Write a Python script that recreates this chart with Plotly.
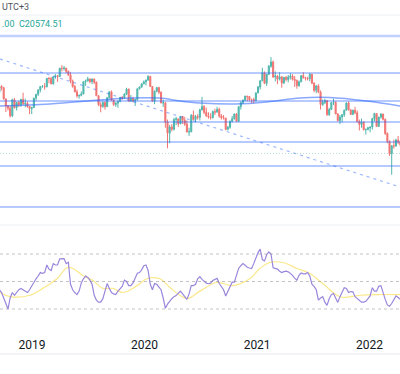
import pandas as pd
import plotly.graph_objects as go

# ---------------- data ----------------
week_start = "2018-09-17"
n_weeks = 187
dates = pd.date_range(week_start, periods=n_weeks, freq="7D")

opens = [
    27300, 27954, 27789, 26573, 25801, 25561, 24718, 26486, 25602, 26184,
    25928, 26507, 26064, 26095, 25753, 25504, 25626, 26667, 27091, 27569,
    27931, 27946, 27901, 28816, 28812, 28228, 29012, 29113, 29051, 29936,
    29910, 29963, 29605, 29210, 28550, 27946, 27354, 26901, 26965, 27118,
    28474, 28543, 28775, 28472, 28765, 28398, 26919, 25939, 25734, 26179,
    25725, 26691, 27353, 26436, 25955, 26110, 26308, 26720, 26667, 27101,
    27651, 26327, 26595, 26346, 26498, 27688, 27871, 28225, 28452, 28638,
    29056, 27950, 26313, 27404, 27816, 27309, 26130, 26147, 24033, 22805,
    23484, 23236, 24300, 24380, 23831, 24644, 24230, 23797, 22930, 22961,
    24770, 24301, 24644, 24550, 25373, 25727, 25089, 24705, 24595, 24532,
    25183, 25114, 25422, 24695, 24503, 24455, 23235, 23459, 24119, 24387,
    24919, 24107, 25713, 26157, 26452, 26895, 26836, 26506, 26499, 26387,
    27231, 27878, 28574, 29448, 28284, 29289, 30174, 30645, 28980, 29098,
    28740, 28991, 28336, 28939, 28699, 28970, 29079, 28725, 28611, 28028,
    28458, 29124, 28918, 28842, 28801, 29288, 28310, 27515, 28004, 27322,
    25961, 26179, 26392, 24850, 25408, 26164, 26206, 24921, 24192, 24576,
    24838, 25331, 26127, 25377, 24871, 25328, 25050, 24081, 23767, 23996,
    23193, 23224, 23398, 23493, 24383, 24966, 23550, 24573, 24907, 24328,
    22767, 21905, 20554, 21412, 21405, 22040, 21872,
]
highs = [
    28050, 28080, 27900, 26600, 25900, 25790, 26600, 26680, 26250, 26350,
    26600, 27260, 26600, 26300, 25800, 25700, 26700, 27100, 27600, 28000,
    28100, 28300, 28900, 29000, 29000, 29050, 29300, 29200, 30000, 30280,
    30200, 30000, 29700, 29500, 28700, 28100, 27600, 27050, 27400, 28500,
    28700, 29000, 28800, 28800, 28800, 28500, 26950, 26200, 26300, 26300,
    26800, 27400, 27500, 26500, 26200, 26400, 26800, 26900, 27200, 27800,
    27700, 27000, 26800, 26600, 27700, 27950, 28300, 28600, 28700, 29174,
    29100, 27950, 27500, 27900, 27900, 27400, 26500, 26200, 24300, 23700,
    23800, 24500, 24600, 24400, 24700, 24700, 24600, 24200, 23400, 24900,
    25300, 24800, 24900, 25500, 26800, 25900, 25600, 25100, 25000, 25300,
    25500, 25700, 25600, 24900, 24800, 24500, 23600, 24200, 24700, 24950,
    25000, 25800, 26300, 26500, 26900, 26900, 26900, 26600, 26700, 27300,
    28000, 28600, 30000, 29600, 29300, 30300, 31183, 30800, 29600, 29200,
    29500, 29100, 29000, 29100, 29200, 29400, 29300, 29100, 28700, 28600,
    29200, 29500, 29000, 29000, 29400, 29300, 28400, 28100, 28200, 27500,
    26500, 26600, 26400, 25600, 26200, 26600, 26300, 25000, 24800, 24900,
    25400, 26200, 26300, 25400, 25400, 25700, 25300, 24300, 24400, 24100,
    23300, 23500, 23500, 24500, 25050, 25000, 24600, 25000, 24950, 24400,
    22900, 22000, 21500, 22100, 22200, 22500, 22000,
]
lows = [
    27100, 27500, 26500, 25130, 25300, 24540, 24600, 25520, 25300, 25700,
    25700, 25900, 25650, 25600, 24900, 24900, 25600, 26400, 26900, 27300,
    27800, 27600, 27850, 28300, 28200, 28150, 28800, 28450, 29000, 29600,
    29700, 29400, 29100, 28300, 27800, 27300, 26700, 26600, 26850, 27100,
    28000, 28500, 28300, 28200, 28200, 26900, 25800, 25100, 25600, 25400,
    25700, 26600, 26400, 25800, 25700, 25600, 26200, 26500, 26600, 27000,
    26300, 26300, 26200, 25800, 26400, 27600, 27800, 28200, 28050, 28600,
    27900, 26300, 26000, 27300, 27100, 26100, 25700, 23400, 21139, 21700,
    23000, 23100, 23700, 23500, 23800, 23800, 23600, 22900, 22500, 22900,
    24200, 24000, 24300, 24200, 25300, 24900, 24600, 24400, 24300, 24400,
    24800, 25100, 24500, 24300, 24300, 23124, 23100, 23300, 24000, 24300,
    24100, 24100, 25400, 26000, 26300, 26300, 26300, 26100, 26100, 26300,
    27200, 27600, 28500, 28200, 28000, 29200, 30000, 28900, 28500, 28200,
    28600, 27800, 28200, 28500, 28400, 28700, 28600, 27900, 27700, 27900,
    28400, 28800, 28600, 28600, 28500, 28200, 27300, 27200, 27200, 25400,
    25800, 26000, 24700, 24700, 25400, 25900, 24900, 24100, 23800, 24000,
    24600, 25300, 25300, 24800, 24800, 24900, 24000, 23100, 23400, 23100,
    22665, 23100, 22900, 23200, 24100, 23500, 23500, 24400, 24200, 22600,
    21700, 20300, 18235, 21100, 21300, 21600, 21300,
]
closes = [
    27954, 27789, 26573, 25801, 25561, 24718, 26486, 25602, 26184, 25928,
    26507, 26064, 26095, 25753, 25504, 25626, 26667, 27091, 27569, 27931,
    27946, 27901, 28816, 28812, 28228, 29012, 29113, 29051, 29936, 29910,
    29963, 29605, 29210, 28550, 27946, 27354, 26901, 26965, 27118, 28474,
    28543, 28775, 28472, 28765, 28398, 26919, 25939, 25734, 26179, 25725,
    26691, 27353, 26436, 25955, 26110, 26308, 26720, 26667, 27101, 27651,
    26327, 26595, 26346, 26498, 27688, 27871, 28225, 28452, 28638, 29056,
    27950, 26313, 27404, 27816, 27309, 26130, 26147, 24033, 22805, 23484,
    23236, 24300, 24380, 23831, 24644, 24230, 23797, 22930, 22961, 24770,
    24301, 24644, 24550, 25373, 25727, 25089, 24705, 24595, 24532, 25183,
    25114, 25422, 24695, 24503, 24455, 23235, 23459, 24119, 24387, 24919,
    24107, 25713, 26157, 26452, 26895, 26836, 26506, 26499, 26387, 27231,
    27878, 28574, 29448, 28284, 29289, 30174, 30645, 28980, 29098, 28740,
    28991, 28336, 28939, 28699, 28970, 29079, 28725, 28611, 28028, 28458,
    29124, 28918, 28842, 28801, 29288, 28310, 27515, 28004, 27322, 25961,
    26179, 26392, 24850, 25408, 26164, 26206, 24921, 24192, 24576, 24838,
    25331, 26127, 25377, 24871, 25328, 25050, 24081, 23767, 23996, 23193,
    23224, 23398, 23493, 24383, 24966, 23550, 24573, 24907, 24328, 22767,
    21905, 20554, 21412, 21405, 22040, 21872, 21518,
]
rsi = [
    44, 42, 38, 34, 30, 38, 42, 40, 42, 44,
    45, 44, 43, 42, 44, 47, 49, 52, 54, 56.5,
    56, 56.5, 62, 59, 58, 63, 62, 62, 66.5, 66.7,
    66.7, 63, 64, 48, 44, 42, 40.5, 43, 49, 52,
    54, 53, 51, 48, 40, 36.5, 35, 35, 37.5, 43,
    48.5, 45, 42, 41, 40.5, 43, 45, 46.5, 51, 50,
    47, 47, 49, 53, 56, 56.5, 58.5, 61.5, 62, 58,
    48, 44, 48.5, 48, 46, 44, 38, 30.5, 33.5, 36,
    37.5, 39, 39.8, 41.5, 43, 41, 39, 37, 41, 47,
    47, 48, 52, 53.5, 51.5, 50, 48.8, 48.4, 48.8, 50.8,
    51.5, 52.3, 48.5, 46.5, 44, 39.5, 42.5, 45.8, 49.5, 49.5,
    55, 59.5, 61.5, 63, 61.8, 60.3, 59.8, 59.4, 63, 67,
    71, 73.5, 66, 65, 69.5, 71.5, 70, 60, 59.5, 59,
    57.5, 56.5, 57.2, 57.5, 57, 56, 54.5, 52.5, 51, 54.5,
    56.2, 55.6, 55.6, 56.5, 54, 48, 46.5, 44, 36.5, 38,
    39, 35, 32.6, 37.5, 40.5, 41.3, 37.5, 34.8, 39, 42.6,
    45.5, 45, 42, 42.7, 42.5, 39, 37.8, 36.7, 35, 35,
    35.6, 37.5, 39.5, 45.5, 43, 43, 46.5, 47, 41, 37,
    33, 32, 34, 37, 39.5, 38.3, 37,
]

# RSI-based moving average (yellow), read at sample dates
rsi_ma_dates = [
    "2018-09-19", "2018-10-22", "2018-12-25", "2019-02-05", "2019-03-23",
    "2019-04-24", "2019-05-14", "2019-06-15", "2019-07-18", "2019-08-19",
    "2019-09-21", "2019-10-23", "2019-12-08", "2020-01-09", "2020-02-20",
    "2020-03-24", "2020-04-25", "2020-05-21", "2020-06-29", "2020-08-23",
    "2020-10-14", "2020-12-08", "2021-01-10", "2021-02-11", "2021-03-26",
    "2021-05-10", "2021-06-21", "2021-08-02", "2021-09-17", "2021-10-06",
    "2021-12-01", "2022-01-25", "2022-04-10",
]
rsi_ma_vals = [
    42, 39, 40, 45, 52, 60, 59.5, 54.4, 50.7, 45,
    45, 42, 47, 52, 52, 45.6, 40, 37.6, 43, 49.3,
    47, 52, 59.5, 63.8, 63.8, 59.5, 55.8, 48.5, 40, 38.4,
    40, 40.5, 40.5,
]

# long moving average on price (blue curve)
ma_dates = [
    "2018-09-19", "2019-02-28", "2019-08-09", "2019-11-15", "2020-02-20",
    "2020-04-25", "2020-06-29", "2020-10-21", "2021-02-02", "2021-05-20",
    "2021-08-25", "2021-12-23", "2022-04-10",
]
ma_vals = [25793, 26013, 26453, 26673, 26673, 26343, 26123, 26013, 26233,
           26673, 26728, 26343, 25793]

# horizontal levels drawn on the chart
level_major = [33493]
levels = [29423, 26343, 24033, 21833, 19193, 14683]
last_price = 20574.51

# descending trend line
trend_dates = ["2018-09-19", "2022-04-10"]
trend_vals = [30963, 16883]

# RSI bands
rsi_bands = [70, 50, 30]

year_ticks = ["2019-01-01", "2020-01-01", "2021-01-01", "2022-01-01"]
year_labels = ["2019", "2020", "2021", "2022"]

x_range = ["2018-09-19", "2022-04-10"]
price_range = [12703, 35803]
rsi_range = [20.55, 91.09]

# ---------------- figure ----------------
fig = go.Figure()

fig.add_trace(go.Candlestick(
    x=dates, open=opens, high=highs, low=lows, close=closes,
    xaxis="x2", yaxis="y",
    increasing=dict(line=dict(color="#26a69a", width=1), fillcolor="#26a69a"),
    decreasing=dict(line=dict(color="#ef5350", width=1), fillcolor="#ef5350"),
    whiskerwidth=0, opacity=0.8, hoverinfo="skip", showlegend=False,
))

fig.add_trace(go.Scatter(
    x=ma_dates, y=ma_vals, xaxis="x2", yaxis="y", mode="lines",
    line=dict(color="rgba(41,98,255,0.55)", width=1.5, shape="spline"),
    hoverinfo="skip", showlegend=False,
))

fig.add_trace(go.Scatter(
    x=trend_dates, y=trend_vals, xaxis="x2", yaxis="y", mode="lines",
    line=dict(color="rgba(41,98,255,0.45)", width=1.2, dash="3px,4px"),
    hoverinfo="skip", showlegend=False,
))

fig.add_trace(go.Scatter(
    x=rsi_ma_dates, y=rsi_ma_vals, xaxis="x", yaxis="y2", mode="lines",
    line=dict(color="#fbe88a", width=1.2, shape="spline"),
    hoverinfo="skip", showlegend=False,
))
fig.add_trace(go.Scatter(
    x=dates, y=rsi, xaxis="x", yaxis="y2", mode="lines",
    line=dict(color="#9a86dc", width=1.2),
    hoverinfo="skip", showlegend=False,
))

shapes = []
for lv in level_major:
    shapes.append(dict(type="line", xref="paper", x0=0, x1=1, yref="y", y0=lv, y1=lv,
                       line=dict(color="rgba(41,98,255,0.3)", width=2.5)))
for lv in levels:
    shapes.append(dict(type="line", xref="paper", x0=0, x1=1, yref="y", y0=lv, y1=lv,
                       line=dict(color="rgba(41,98,255,0.45)", width=1.3)))
shapes.append(dict(type="line", xref="paper", x0=0, x1=1, yref="y", y0=last_price, y1=last_price,
                   line=dict(color="rgba(38,166,154,0.35)", width=1, dash="1px,2px")))
for b in rsi_bands:
    shapes.append(dict(type="line", xref="paper", x0=0, x1=1, yref="y2", y0=b, y1=b,
                       line=dict(color="rgba(120,123,134,0.45)", width=1, dash="3px,3px")))
# pane separators
for py in [0.9534, 0.3012]:
    shapes.append(dict(type="line", xref="paper", x0=0, x1=1, yref="paper", y0=py, y1=py,
                       line=dict(color="#eef0f4", width=1)))
shapes.append(dict(type="line", xref="paper", x0=0, x1=1, yref="paper", y0=-0.0994, y1=-0.0994,
                   line=dict(color="#e6e8ee", width=1)))

fig.update_layout(
    width=400, height=374,
    margin=dict(l=0, r=0, t=0, b=52),
    paper_bgcolor="white", plot_bgcolor="white",
    showlegend=False,
    shapes=shapes,
    xaxis=dict(domain=[0, 1], anchor="y2", type="date", range=x_range,
               showgrid=False, zeroline=False, showline=False,
               tickmode="array", tickvals=year_ticks, ticktext=year_labels,
               ticks="outside", ticklen=12, tickcolor="rgba(0,0,0,0)",
               tickfont=dict(family="Roboto", size=12, color="#131722")),
    xaxis2=dict(matches="x", anchor="y", type="date", showticklabels=False,
                showgrid=False, zeroline=False, showline=False,
                rangeslider=dict(visible=False)),
    yaxis=dict(domain=[0.3012, 0.9534], range=price_range, showticklabels=False,
               showgrid=False, zeroline=False, showline=False),
    yaxis2=dict(domain=[0, 0.3012], range=rsi_range, showticklabels=False,
                showgrid=False, zeroline=False, showline=False),
    annotations=[
        dict(text="UTC+3", xref="paper", yref="paper", x=0.0, y=0.978,
             xanchor="left", yanchor="middle", showarrow=False,
             font=dict(family="Roboto", size=9, color="#50535e")),
        dict(text=".00  C" + f"{last_price:.2f}", xref="paper", yref="paper", x=0.0, y=0.925,
             xanchor="left", yanchor="middle", showarrow=False,
             font=dict(family="Roboto", size=9, color="#26a69a")),
    ],
)

fig.write_html(
    "out.html",
    config={"displayModeBar": False},
    post_script="document.body.style.margin='0';document.body.style.overflow='hidden';",
)
